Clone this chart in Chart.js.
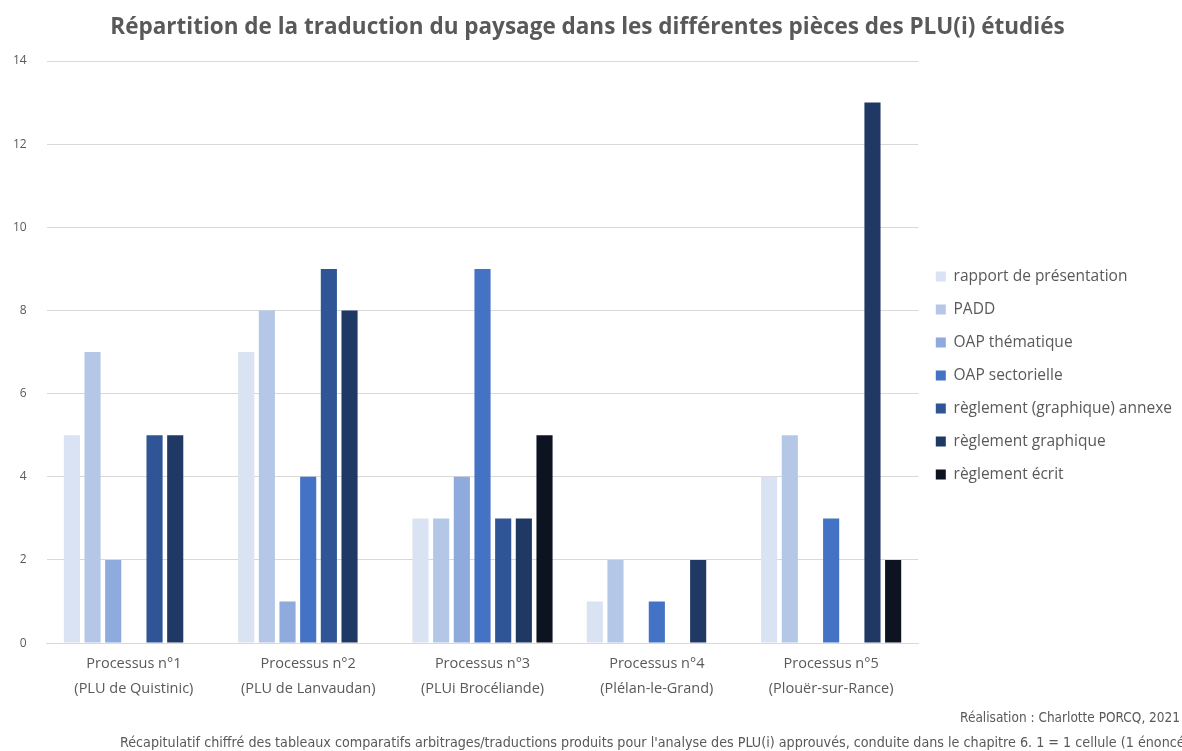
<!DOCTYPE html>
<html lang="fr">
<head>
<meta charset="utf-8">
<title>Répartition de la traduction du paysage</title>
<script src="https://cdn.jsdelivr.net/npm/chart.js@4.4.1/dist/chart.umd.min.js"></script>
<style>
  html, body { margin: 0; padding: 0; background: #fff; }
  #wrap { width: 1182px; height: 751px; position: relative; }
</style>
</head>
<body>
<div id="wrap"><canvas id="chart"></canvas></div>
<script>
// Processus étudiés (axe des abscisses)
const processus = [
  ["Processus n°1", "(PLU de Quistinic)"],
  ["Processus n°2", "(PLU de Lanvaudan)"],
  ["Processus n°3", "(PLUi Brocéliande)"],
  ["Processus n°4", "(Plélan-le-Grand)"],
  ["Processus n°5", "(Plouër-sur-Rance)"],
];

// Nombre de cellules par pièce du PLU(i)
const rapportPresentation = [5, 7, 3, 1, 4];
const padd = [7, 8, 3, 2, 5];
const oapThematique = [2, 1, 4, 0, 0];
const oapSectorielle = [0, 4, 9, 1, 3];
const reglementGraphiqueAnnexe = [5, 9, 3, 0, 0];
const reglementGraphique = [5, 8, 3, 2, 13];
const reglementEcrit = [0, 0, 5, 0, 2];

const yTicks = [0, 2, 4, 6, 8, 10, 12, 14];

const grey = "#595959";

const series = [
  { label: "rapport de présentation", data: rapportPresentation, color: "#DAE3F3" },
  { label: "PADD", data: padd, color: "#B4C7E7" },
  { label: "OAP thématique", data: oapThematique, color: "#8FAADC" },
  { label: "OAP sectorielle", data: oapSectorielle, color: "#4472C4" },
  { label: "règlement (graphique) annexe", data: reglementGraphiqueAnnexe, color: "#2F5597" },
  { label: "règlement graphique", data: reglementGraphique, color: "#1F3864" },
  { label: "règlement écrit", data: reglementEcrit, color: "#0D1321" },
];

// Crédit et note de bas de page
const footer = {
  id: "footer",
  afterDraw(chart) {
    const { ctx, width } = chart;
    ctx.save();
    ctx.fillStyle = grey;
    ctx.textBaseline = "middle";
    ctx.font = "13.5px 'Liberation Sans Narrow', 'DejaVu Sans Condensed', sans-serif";
    ctx.textAlign = "right";
    ctx.fillText("Réalisation : Charlotte PORCQ, 2021", width - 2, 718);
    ctx.textAlign = "left";
    ctx.font = "14.2px 'Liberation Sans Narrow', 'DejaVu Sans Condensed', sans-serif";
    ctx.fillText(
      "Récapitulatif chiffré des tableaux comparatifs arbitrages/traductions produits pour l'analyse des PLU(i) approuvés, conduite dans le chapitre 6. 1 = 1 cellule (1 énoncé",
      120, 743
    );
    ctx.restore();
  },
};

new Chart(document.getElementById("chart"), {
  type: "bar",
  data: {
    labels: processus,
    datasets: series.map((s) => ({
      label: s.label,
      data: s.data,
      backgroundColor: s.color,
      borderWidth: 0,
      categoryPercentage: 0.83,
      barPercentage: 0.78,
    })),
  },
  options: {
    responsive: true,
    maintainAspectRatio: false,
    animation: false,
    layout: { padding: { left: -7, right: 0, top: 0, bottom: 0 } },
    plugins: {
      title: {
        display: true,
        text: "Répartition de la traduction du paysage dans les différentes pièces des PLU(i) étudiés",
        color: grey,
        font: { family: "'Open Sans', sans-serif", size: 22.5, weight: "bold" },
        padding: { top: 14, bottom: 20 },
      },
      legend: {
        position: "right",
        labels: {
          color: grey,
          boxWidth: 10,
          boxHeight: 10,
          padding: 17.5,
          font: { family: "'Open Sans', sans-serif", size: 15.5 },
        },
      },
      tooltip: { enabled: false },
    },
    scales: {
      x: {
        grid: { display: false },
        border: { color: "#d9d9d9" },
        ticks: {
          color: grey,
          padding: 0,
          font: { family: "'Open Sans', sans-serif", size: 14.5, lineHeight: 1.72 },
        },
        afterFit(scale) {
          scale.height += 50;
        },
      },
      y: {
        min: 0,
        max: 14,
        border: { display: false },
        grid: { color: "#d9d9d9", drawTicks: false },
        afterBuildTicks(scale) {
          scale.ticks = yTicks.map((v) => ({ value: v }));
        },
        ticks: {
          color: grey,
          padding: 20,
          font: { family: "'Open Sans', sans-serif", size: 12 },
        },
      },
    },
  },
  plugins: [footer],
});
</script>
</body>
</html>
